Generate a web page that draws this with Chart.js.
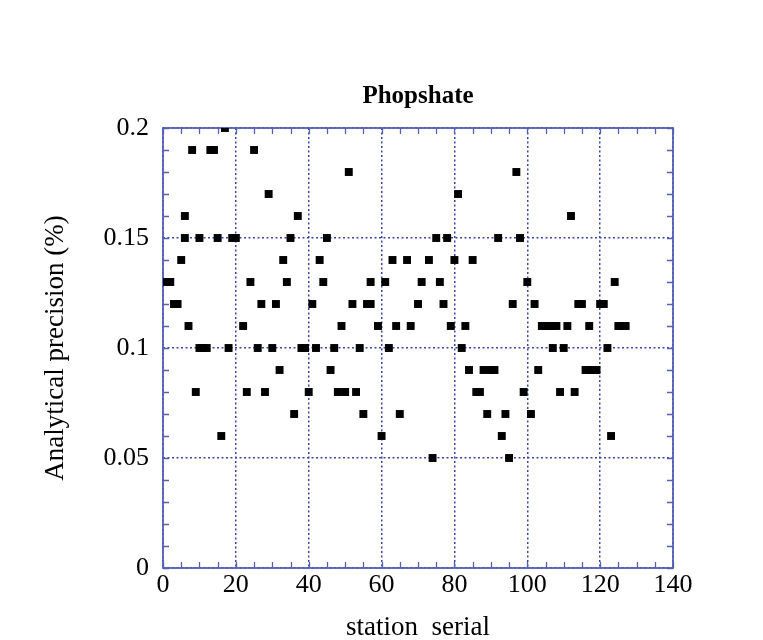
<!DOCTYPE html>
<html>
<head>
<meta charset="utf-8">
<script src="https://cdn.jsdelivr.net/npm/chart.js@4"></script>
<style>
  html, body { margin: 0; padding: 0; background: #ffffff; }
  #wrap { width: 763px; height: 640px; }
</style>
</head>
<body>
<div id="wrap"><canvas id="phosChart" width="763" height="640"></canvas></div>
<script>
// station serial numbers and their analytical precision (%)
const stationSerial = [
  1, 2, 3, 4, 5, 6, 6, 7, 8, 9, 10, 10, 11, 12, 13, 14, 15, 16, 17, 18, 19, 20,
  22, 23, 24, 25, 26, 27, 28, 29, 30, 31, 32, 33, 34, 35, 36, 37, 38, 39, 40,
  41, 42, 43, 44, 45, 46, 47, 48, 49, 50, 51, 52, 53, 54, 55, 56, 57, 57, 59, 60,
  61, 62, 63, 64, 65, 67, 68, 70, 71, 73, 74, 75, 76, 77, 78, 79, 80,
  81, 82, 83, 84, 85, 86, 87, 88, 89, 90, 91, 92, 93, 94, 95, 96, 97, 98, 99, 100,
  101, 102, 103, 104, 105, 106, 107, 107, 108, 109, 110, 111, 112, 113, 114, 115,
  116, 117, 117, 118, 119, 120, 121, 122, 123, 124, 125, 126, 127
];
const precision = [
  0.13, 0.13, 0.12, 0.12, 0.14, 0.16, 0.15, 0.11, 0.19, 0.08, 0.15, 0.10, 0.10, 0.10, 0.19, 0.19, 0.15, 0.06, 0.20, 0.10, 0.15, 0.15,
  0.11, 0.08, 0.13, 0.19, 0.10, 0.12, 0.08, 0.17, 0.10, 0.12, 0.09, 0.14, 0.13, 0.15, 0.07, 0.16, 0.10, 0.10, 0.08,
  0.12, 0.10, 0.14, 0.13, 0.15, 0.09, 0.10, 0.08, 0.11, 0.08, 0.18, 0.12, 0.08, 0.10, 0.07, 0.12, 0.12, 0.13, 0.11, 0.06,
  0.13, 0.10, 0.14, 0.11, 0.07, 0.14, 0.11, 0.12, 0.13, 0.14, 0.05, 0.15, 0.13, 0.12, 0.15, 0.11, 0.14,
  0.17, 0.10, 0.11, 0.09, 0.14, 0.08, 0.08, 0.09, 0.07, 0.09, 0.09, 0.15, 0.06, 0.07, 0.05, 0.12, 0.18, 0.15, 0.08, 0.13,
  0.07, 0.12, 0.09, 0.11, 0.11, 0.11, 0.11, 0.10, 0.11, 0.08, 0.10, 0.11, 0.16, 0.08, 0.12, 0.12,
  0.09, 0.09, 0.11, 0.09, 0.09, 0.12, 0.12, 0.10, 0.06, 0.13, 0.11, 0.11, 0.11
];
const xTicks = [0, 20, 40, 60, 80, 100, 120, 140];
const yTicks = [0, 0.05, 0.1, 0.15, 0.2];

const serif = "'Liberation Serif', 'Times New Roman', serif";
const axisBlue = "#5461b4";
const gridBlue = "#3a46a6";

const points = stationSerial.map((s, i) => ({ x: s, y: precision[i] }));

// frame on all four sides plus small inward ticks
const framePlugin = {
  id: "frame",
  beforeDatasetsDraw(chart) {
    const { ctx, chartArea: a, scales } = chart;
    ctx.save();
    ctx.strokeStyle = axisBlue;
    ctx.lineWidth = 1.3;
    ctx.beginPath();
    for (let v = 0; v <= 140; v += 5) {
      const px = Math.round(scales.x.getPixelForValue(v)) + 0.5;
      ctx.moveTo(px, a.bottom); ctx.lineTo(px, a.bottom - 6);
      ctx.moveTo(px, a.top); ctx.lineTo(px, a.top + 6);
    }
    for (let k = 0; k <= 20; k++) {
      const py = Math.round(scales.y.getPixelForValue(k / 100)) + 0.5;
      ctx.moveTo(a.left, py); ctx.lineTo(a.left + 6, py);
      ctx.moveTo(a.right, py); ctx.lineTo(a.right - 6, py);
    }
    ctx.stroke();
    ctx.lineWidth = 1.8;
    ctx.strokeRect(a.left, a.top, a.right - a.left, a.bottom - a.top);
    ctx.restore();
  }
};

new Chart(document.getElementById("phosChart"), {
  type: "scatter",
  data: {
    datasets: [{
      label: "Phopshate",
      data: points,
      pointStyle: "rect",
      pointRadius: 5.6,
      pointHoverRadius: 5.6,
      backgroundColor: "#000000",
      borderColor: "#000000",
      borderWidth: 0
    }]
  },
  options: {
    responsive: false,
    animation: false,
    layout: { padding: { left: 0, right: 90, top: 0, bottom: 0 } },
    plugins: {
      legend: { display: false },
      tooltip: { enabled: false },
      title: {
        display: true,
        text: "Phopshate",
        fullSize: false,
        color: "#000000",
        font: { family: serif, size: 25, weight: "bold" },
        padding: { top: 82, bottom: 16 }
      }
    },
    scales: {
      x: {
        type: "linear",
        min: 0,
        max: 140,
        afterBuildTicks: s => { s.ticks = xTicks.map(v => ({ value: v })); },
        afterFit: s => { s.height = 72; },
        grid: { color: gridBlue, lineWidth: 1.5, drawTicks: false },
        border: { display: false, dash: [2, 2.5] },
        ticks: { color: "#000000", padding: 2, maxRotation: 0, font: { family: serif, size: 26 } },
        title: {
          display: true,
          text: "station  serial",
          color: "#000000",
          font: { family: serif, size: 27 },
          padding: { top: 0, bottom: -4 }
        }
      },
      y: {
        type: "linear",
        min: 0,
        max: 0.2,
        afterBuildTicks: s => { s.ticks = yTicks.map(v => ({ value: v })); },
        afterFit: s => { s.width = 163; },
        grid: { color: gridBlue, lineWidth: 1.5, drawTicks: false },
        border: { display: false, dash: [2, 2.5] },
        ticks: {
          color: "#000000",
          padding: 14,
          font: { family: serif, size: 26 },
          callback: v => String(Math.round(v * 100) / 100)
        },
        title: {
          display: true,
          text: "Analytical precision (%)",
          color: "#000000",
          font: { family: serif, size: 27 },
          padding: { top: 40, bottom: 0 }
        }
      }
    }
  },
  plugins: [framePlugin]
});
</script>
</body>
</html>
